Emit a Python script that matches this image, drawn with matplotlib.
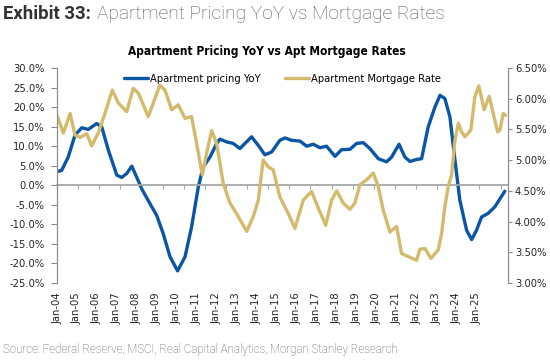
############################################################
# apartment pricing YoY vs apartment mortgage rates
############################################################
import numpy as np
import matplotlib
matplotlib.use('Agg')
import matplotlib.pyplot as plt
import matplotlib.transforms as mtransforms
from matplotlib import font_manager
from matplotlib.ticker import FuncFormatter

# apartment pricing YoY (%) (decimal years)
price_year = [2004.0, 2004.22, 2004.53, 2004.85, 2005.17, 2005.48, 2005.88, 2006.12,
              2006.43, 2006.83, 2007.06, 2007.30, 2007.54, 2007.77, 2008.01, 2008.40,
              2008.72, 2009.03, 2009.35, 2009.71, 2010.06, 2010.37, 2010.69, 2010.92,
              2011.24, 2011.56, 2011.71, 2012.03, 2012.34, 2012.66, 2013.21, 2013.53,
              2013.84, 2014.16, 2014.55, 2014.79, 2015.11, 2015.50, 2015.82, 2016.13,
              2016.45, 2016.76, 2017.16, 2017.47, 2017.87, 2018.18, 2018.50, 2018.81,
              2019.21, 2019.60, 2019.84, 2020.19, 2020.47, 2020.71, 2021.02, 2021.26,
              2021.57, 2021.89, 2022.13, 2022.36, 2022.60, 2022.84, 2023.07, 2023.39,
              2023.63, 2023.86, 2024.10, 2024.41, 2024.73, 2025.20]
price_yoy = [3.5, 3.8, 7.2, 12.8, 14.7, 14.3, 15.8, 14.9,
             9.0, 2.6, 2.0, 3.0, 4.9, 2.1, -0.9, -4.7,
             -7.7, -12.4, -18.3, -21.9, -18.3, -10.7, -0.4, 4.7,
             7.2, 10.7, 11.8, 11.1, 10.7, 9.4, 12.4, 10.2,
             7.8, 8.5, 11.5, 12.1, 11.5, 11.3, 10.0, 10.5,
             9.6, 10.0, 7.4, 9.1, 9.2, 10.7, 10.9, 9.4,
             6.8, 6.0, 7.2, 10.5, 7.2, 6.1, 6.6, 6.8,
             14.9, 20.0, 23.0, 22.2, 17.5, 6.4, -3.8, -11.5,
             -13.9, -11.5, -8.1, -7.2, -5.5, -1.5]

# apartment mortgage rate (%)
rate_year = [2004.0, 2004.30, 2004.62, 2004.85, 2005.09, 2005.41, 2005.64, 2005.95,
             2006.27, 2006.62, 2006.90, 2007.30, 2007.61, 2007.85, 2008.32, 2008.87,
             2009.11, 2009.43, 2009.74, 2010.06, 2010.37, 2010.61, 2010.88, 2011.08,
             2011.32, 2011.56, 2011.87, 2012.19, 2012.50, 2012.98, 2013.29, 2013.53,
             2013.76, 2014.00, 2014.24, 2014.55, 2014.95, 2015.26, 2015.66, 2016.05,
             2016.37, 2016.72, 2017.00, 2017.24, 2017.55, 2017.87, 2018.10, 2018.34,
             2018.66, 2018.97, 2019.21, 2019.44, 2019.76, 2020.08, 2020.31, 2020.63,
             2021.02, 2021.18, 2021.42, 2021.70, 2022.05, 2022.21, 2022.36, 2022.52,
             2022.68, 2022.84, 2023.00, 2023.15, 2023.31, 2023.59, 2023.78, 2023.97,
             2024.22, 2024.46, 2024.65, 2024.86, 2024.97, 2025.12, 2025.23]
rate_pct = [5.73, 5.44, 5.76, 5.41, 5.37, 5.43, 5.23, 5.44,
            5.76, 6.14, 5.93, 5.79, 6.17, 6.09, 5.71, 6.22,
            6.14, 5.82, 5.90, 5.68, 5.71, 5.27, 4.76, 5.11,
            5.48, 5.27, 4.62, 4.30, 4.13, 3.84, 4.08, 4.35,
            5.00, 4.89, 4.84, 4.40, 4.13, 3.89, 4.35, 4.49,
            4.22, 3.94, 4.35, 4.50, 4.30, 4.20, 4.30, 4.60,
            4.68, 4.79, 4.57, 4.19, 3.83, 3.92, 3.48, 3.43,
            3.37, 3.55, 3.56, 3.40, 3.54, 3.81, 4.24, 4.57,
            4.76, 5.33, 5.60, 5.46, 5.38, 5.49, 6.03, 6.21,
            5.82, 6.04, 5.76, 5.46, 5.49, 5.76, 5.73]

year_ticks = list(range(2004, 2026))
year_labels = ['Jan-%02d' % (y % 100) for y in year_ticks]

blue = '#0B55A5'
gold = '#D3BA6C'
grey = '#A6A6A6'
txt = '#262626'


# look for a narrow sans font (the source uses Arial Narrow)
def narrow_font(bold):
    for f in font_manager.fontManager.ttflist:
        fn = f.fname.lower()
        if ('narrow' in fn or 'condensed' in fn) and 'oblique' not in fn and 'italic' not in fn:
            isbold = 'bold' in fn
            if isbold == bold:
                return font_manager.FontProperties(fname=f.fname)
    return None


fp_reg = narrow_font(False)
fp_bold = narrow_font(True)
if fp_reg is None:
    fp_reg = font_manager.FontProperties(family='Liberation Sans')
if fp_bold is None:
    fp_bold = font_manager.FontProperties(family='Liberation Sans', weight='bold')

fig = plt.figure(figsize=[5.5, 3.6], dpi=100)
ax = fig.add_axes([57/550, 1-283/360, 451/550, 215/360])
ax2 = ax.twinx()

l1, = ax.plot(price_year, price_yoy, color=blue, lw=2.4, solid_joinstyle='round',
              solid_capstyle='round', label='Apartment pricing YoY')
l2, = ax2.plot(rate_year, rate_pct, color=gold, lw=2.4, solid_joinstyle='round',
               solid_capstyle='round', label='Apartment Mortgage Rate')

ax.set_xlim(2004, 2025.35)
ax.set_ylim(-25, 30)
ax.set_yticks(np.arange(-25, 31, 5))
ax.yaxis.set_major_formatter(FuncFormatter(lambda v, p: '%.1f%%' % v))
ax2.set_ylim(3.0, 6.5)
ax2.set_yticks(np.arange(3.0, 6.51, 0.5))
ax2.yaxis.set_major_formatter(FuncFormatter(lambda v, p: '%.2f%%' % v))

# category axis sits on the zero line, ticks every January
ax.spines['bottom'].set_position(('data', 0))
ax.spines['bottom'].set_color(grey)
ax.spines['bottom'].set_linewidth(1.3)
ax.set_xticks(year_ticks)
ax.tick_params(axis='x', length=3, color=grey, labelbottom=False)
for a in (ax, ax2):
    a.spines['top'].set_visible(False)
    a.spines['left'].set_color('#8c8c8c')
    a.spines['right'].set_color('#8c8c8c')
    a.spines['bottom'].set_visible(a is ax)
ax.tick_params(axis='y', length=4, color='#8c8c8c', labelcolor=txt, pad=5)
ax2.tick_params(axis='y', length=3, color='#8c8c8c', labelcolor=txt, pad=2)
for lab in ax.get_yticklabels() + ax2.get_yticklabels():
    lab.set_fontproperties(fp_reg)
    lab.set_fontsize(8)

# date labels along the bottom (spaced a little tighter than the ticks, as in the source)
trans = mtransforms.blended_transform_factory(ax.transData, ax.transAxes)
for k, lab in enumerate(year_labels):
    ax.text(2004 + k * 20 / 21.13, -0.045, lab, transform=trans, rotation=90,
            ha='center', va='top', fontproperties=fp_reg, fontsize=8, color=txt)

leg_fp = fp_reg.copy()
leg_fp.set_size(8)
ax2.legend([l1, l2], [l1.get_label(), l2.get_label()], loc='center', ncol=2,
           bbox_to_anchor=(0.5, 0.95), frameon=False, prop=leg_fp,
           handlelength=2.2, columnspacing=2.2, handletextpad=0.15)

fig.text(267/550, 1-51/360, 'Apartment Pricing YoY vs Apt Mortgage Rates', ha='center',
         va='center', fontproperties=fp_bold, fontsize=8.6, color='black')
fig.text(3/550, 1-14/360, 'Exhibit 33:', family='Roboto', fontweight='bold',
         fontsize=13.3, color='#333333', va='center')
fig.text(97/550, 1-14/360, 'Apartment Pricing YoY vs Mortgage Rates', family='Roboto',
         fontweight='light', fontsize=13.8, color='#555555', va='center')
fig.text(3/550, 1-349/360, 'Source: Federal Reserve, MSCI, Real Capital Analytics, Morgan Stanley Research',
         family='Roboto', fontweight='light', fontsize=8.3, color='#555555', va='center')

fig.savefig('out.png', dpi=100)
plt.close(fig)
